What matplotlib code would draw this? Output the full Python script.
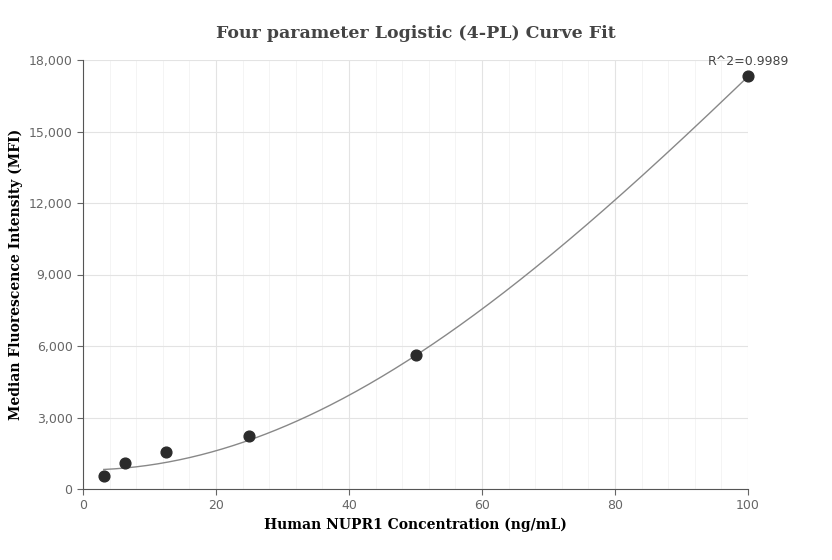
import numpy as np
import matplotlib.pyplot as plt
from matplotlib.ticker import FuncFormatter, MultipleLocator

conc = [3.125, 6.25, 12.5, 25, 50, 100]
mfi = [530, 1080, 1550, 2220, 5620, 17330]
# 4-PL fit parameters (bottom, slope, ec50, top)
fit_a, fit_b, fit_c, fit_d = 800, 2.0, 208.7, 89200
r2_label = "R^2=0.9989"

def four_pl(x):
    return fit_d + (fit_a - fit_d) / (1 + (x / fit_c) ** fit_b)

fig = plt.figure(figsize=(8.32, 5.6), dpi=100)
ax = fig.add_axes([83/832, 71/560, 665/832, 429/560])

xs = np.linspace(conc[0], conc[-1], 300)
ax.plot(xs, four_pl(xs), color="#888888", lw=1, zorder=2)
ax.scatter(conc, mfi, s=60, color="#2b2b2b", zorder=3, clip_on=False)
ax.annotate(r2_label, (conc[-1], mfi[-1]), xytext=(0, 6), textcoords="offset points",
            ha="center", va="bottom", fontsize=9, color="#444444")

ax.set_xlim(0, 100)
ax.set_ylim(0, 18000)
ax.xaxis.set_major_locator(MultipleLocator(20))
ax.xaxis.set_minor_locator(MultipleLocator(4))
ax.yaxis.set_major_locator(MultipleLocator(3000))
ax.yaxis.set_major_formatter(FuncFormatter(lambda v, p: f"{int(v):,}"))
ax.grid(which="major", color="#e3e3e3", lw=0.8)
ax.grid(which="minor", axis="x", color="#f3f3f3", lw=0.6)
ax.set_axisbelow(True)
for s in ["top", "right"]:
    ax.spines[s].set_visible(False)
for s in ["left", "bottom"]:
    ax.spines[s].set_color("#555555")
ax.tick_params(which="minor", length=0)
ax.tick_params(which="major", labelsize=9, colors="#666666", length=4)

ax.set_title("Four parameter Logistic (4-PL) Curve Fit", fontfamily="DejaVu Serif",
             fontsize=12.5, fontweight="bold", color="#444444", pad=16)
ax.set_xlabel("Human NUPR1 Concentration (ng/mL)", fontfamily="DejaVu Serif",
              fontsize=10, fontweight="bold")
ax.set_ylabel("Median Fluorescence Intensity (MFI)", fontfamily="DejaVu Serif",
              fontsize=10, fontweight="bold")

fig.savefig("out.png")
